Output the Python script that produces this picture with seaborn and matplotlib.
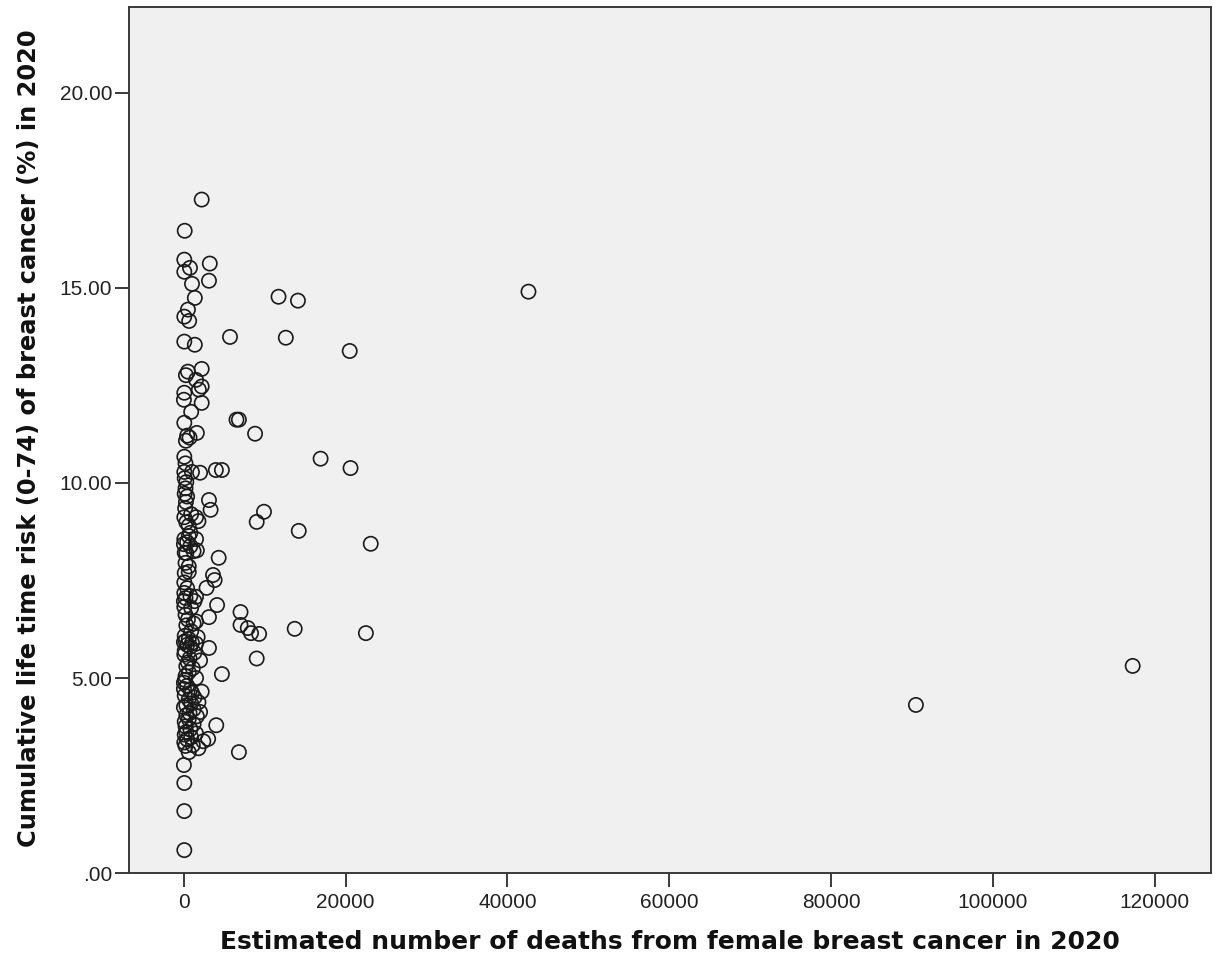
import numpy as np
import pandas as pd
import seaborn as sns
import matplotlib.pyplot as plt
from matplotlib.ticker import FuncFormatter

# estimated deaths (x) and cumulative risk 0-74 (y), read off the chart by band
deaths_top = [2200, 100, 50, 3200, 750, 50, 3100, 1000, 42600, 11700,
              1350, 14100, 500, 50, 650, 5700, 12600, 50, 1350, 20500,
              2200, 500, 250, 1500, 2200, 1850, 50, 0, 2200]
risk_top = [17.26, 16.46, 15.72, 15.62, 15.51, 15.41, 15.18, 15.10, 14.90, 14.77,
            14.74, 14.67, 14.44, 14.26, 14.15, 13.74, 13.72, 13.62, 13.54, 13.38,
            12.92, 12.85, 12.76, 12.64, 12.47, 12.39, 12.31, 12.13, 12.05]

deaths_10 = [900, 50, 6500, 6800, 8800, 400, 700, 1600, 250, 50,
             16900, 20600, 200, 50, 1000, 2000, 3950, 4700, 100, 300]
risk_10 = [11.82, 11.54, 11.62, 11.62, 11.26, 11.21, 11.16, 11.28, 11.08, 10.67,
           10.62, 10.38, 10.50, 10.28, 10.28, 10.26, 10.33, 10.33, 10.12, 10.02]

deaths_8 = [200, 100, 400, 3100, 250, 3300, 9900, 50, 1500, 9000,
            300, 1800, 600, 800, 14200, 600, 50, 1500, 23100, 0,
            800, 1200, 1600, 300, 100, 4300, 400, 900, 150]
risk_8 = [9.86, 9.72, 9.65, 9.56, 9.51, 9.31, 9.26, 9.12, 9.12, 9.00,
          8.99, 9.02, 8.90, 8.72, 8.77, 8.64, 8.56, 8.56, 8.44, 8.43,
          8.38, 8.25, 8.27, 8.20, 8.21, 8.08, 8.48, 9.20, 9.35]

deaths_6 = [200, 600, 100, 600, 3600, 3800, 50, 2800, 50, 800,
            200, 0, 1300, 1500, 50, 4100, 7000, 3100, 500, 1200,
            7000, 13700, 7900, 300, 8300, 9300, 22500, 900, 100, 1700,
            600, 400, 900, 200, 1500]
risk_6 = [7.95, 7.86, 7.69, 7.72, 7.64, 7.51, 7.45, 7.31, 7.18, 7.10,
          7.05, 6.97, 6.97, 7.08, 6.82, 6.87, 6.69, 6.56, 6.50, 6.40,
          6.36, 6.26, 6.28, 6.35, 6.15, 6.13, 6.15, 6.20, 6.08, 6.05,
          6.00, 7.30, 6.80, 6.62, 6.45]

deaths_4 = [0, 800, 3100, 1500, 400, 100, 1300, 9000, 2000, 700,
            300, 117300, 1100, 4700, 600, 200, 1500, 0, 400, 0,
            2200, 1000, 100, 600, 1800, 900, 90500, 0, 1200, 2000,
            300, 1600, 200, 1000, 50, 500, 150, 800, 1300, 300, 700]
risk_4 = [5.92, 5.80, 5.77, 5.88, 5.85, 5.70, 5.65, 5.50, 5.45, 5.50,
          5.30, 5.31, 5.25, 5.10, 5.15, 5.05, 5.00, 4.88, 4.80, 4.72,
          4.65, 4.62, 4.55, 4.45, 4.38, 4.35, 4.31, 4.25, 4.20, 4.13,
          4.05, 4.02, 5.95, 5.90, 5.60, 5.40, 4.95, 4.70, 4.50, 4.30, 4.10]

deaths_low = [4000, 200, 800, 1500, 100, 3000, 400, 1100, 200, 1800,
              600, 6800, 0, 50, 50, 50, 600, 100, 1200, 300, 900, 50, 2400]
risk_low = [3.79, 3.76, 3.69, 3.58, 3.55, 3.44, 3.43, 3.28, 3.26, 3.20,
            3.10, 3.10, 2.77, 2.31, 1.59, 0.59, 3.95, 3.88, 3.82, 3.62, 3.48, 3.35, 3.38]

x_ticks = [0, 20000, 40000, 60000, 80000, 100000, 120000]
y_ticks = [0, 5, 10, 15, 20]
x_label = "Estimated number of deaths from female breast cancer in 2020"
y_label = "Cumulative life time risk (0-74) of breast cancer (%) in 2020"

df = pd.DataFrame({
    "deaths": deaths_top + deaths_10 + deaths_8 + deaths_6 + deaths_4 + deaths_low,
    "risk": risk_top + risk_10 + risk_8 + risk_6 + risk_4 + risk_low,
})

sns.set_style("white")
plt.rcParams["font.family"] = ["Liberation Sans", "DejaVu Sans"]

fig = plt.figure(figsize=(12.16, 9.68), dpi=100)
ax = fig.add_axes([0.106, 0.098, 0.890, 0.895])
ax.set_facecolor("#f0f0f0")

sns.scatterplot(data=df, x="deaths", y="risk", ax=ax, marker="o", s=105,
                linewidth=1.2, legend=False)
pts = ax.collections[0]
pts.set_facecolor("none")
pts.set_edgecolor("#1a1a1a")

ax.set_xlim(-6800, 127000)
ax.set_ylim(0, 22.2)
ax.set_xticks(x_ticks)
ax.set_yticks(y_ticks)
ax.yaxis.set_major_formatter(FuncFormatter(lambda v, p: ".00" if v == 0 else f"{v:.2f}"))
ax.xaxis.set_major_formatter(FuncFormatter(lambda v, p: f"{int(v)}"))

for sp in ax.spines.values():
    sp.set_color("#3a3a3a")
    sp.set_linewidth(1.4)
ax.tick_params(axis="both", bottom=True, left=True, direction="out", length=10,
               width=1.4, color="#3a3a3a", labelsize=15, labelcolor="#222222", pad=4)
ax.tick_params(axis="y", pad=2)

label_font = dict(fontweight="bold", color="#111111", family="DejaVu Sans")
ax.set_xlabel(x_label, fontsize=18, **label_font)
ax.set_ylabel(y_label, fontsize=17.4, **label_font)
ax.xaxis.set_label_coords(0.5, -0.066)
ax.yaxis.set_label_coords(-0.081, 0.502)
ax.xaxis.label.set_va("top")

fig.savefig("out.png", dpi=100, facecolor="white")
